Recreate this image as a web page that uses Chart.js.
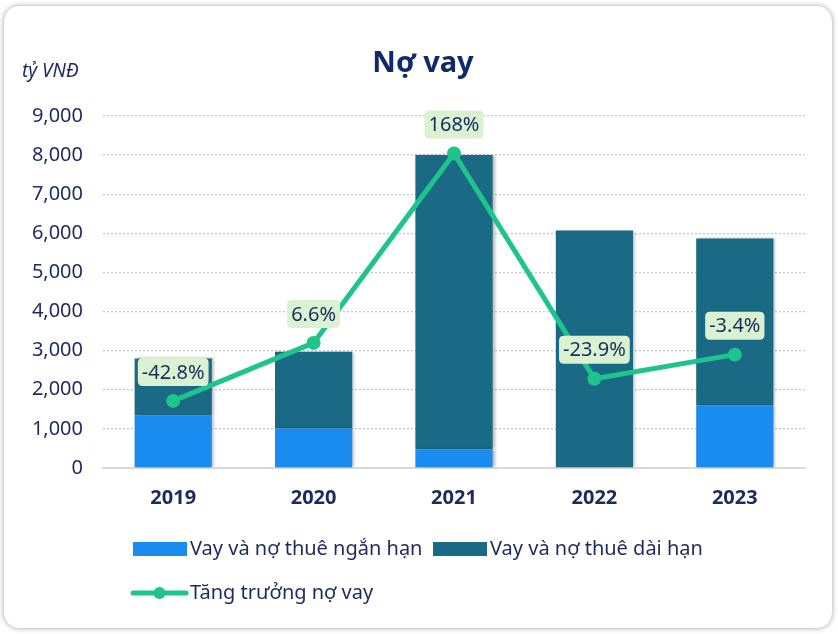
<!DOCTYPE html>
<html><head><meta charset="utf-8">
<script src="https://cdn.jsdelivr.net/npm/chart.js@4/dist/chart.umd.min.js"></script>
<style>
html,body{margin:0;padding:0;background:#fff;width:838px;height:634px;overflow:hidden;font-family:"Noto Sans",sans-serif;}
#card{position:absolute;left:3px;top:5px;width:828px;height:622px;border:1px solid #d6d6d6;border-radius:16px;box-shadow:0 0 5px rgba(0,0,0,0.25);background:#fff;}
#wrap{position:absolute;left:0;top:0;width:838px;height:634px;}
</style></head>
<body>
<div id="card"></div>
<div id="wrap"><canvas id="c" width="838" height="634"></canvas></div>
<script>
const categories = ["2019","2020","2021","2022","2023"];
const shortTerm = [1340, 1010, 480, 0, 1600];
const longTerm = [1460, 1960, 7520, 6070, 4270];
const growth = [-42.8, 6.6, 168, -23.9, -3.4];
const growthLabels = ["-42.8%","6.6%","168%","-23.9%","-3.4%"];
const seriesNames = ["Vay và nợ thuê ngắn hạn","Vay và nợ thuê dài hạn","Tăng trưởng nợ vay"];
const title = "Nợ vay";
const unit = "tỷ VNĐ";

const NAVY = "#1b2b5e";
const C_SHORT = "#1a8cf0";
const C_LONG = "#1a6a85";
const C_LINE = "#1fc38c";
const FONT = "'Noto Sans', sans-serif";

const shadowPlugin = {
  id:'barShadow',
  beforeDatasetDraw(chart, args){
    if (chart.data.datasets[args.index].type === 'bar'){
      const ctx = chart.ctx; ctx.save();
      ctx.shadowColor='rgba(0,0,0,0.3)'; ctx.shadowBlur=3; ctx.shadowOffsetX=2; ctx.shadowOffsetY=0;
    }
  },
  afterDatasetDraw(chart, args){
    if (chart.data.datasets[args.index].type === 'bar') chart.ctx.restore();
  }
};

function rr(ctx,x,y,w,h,r){ctx.beginPath();ctx.moveTo(x+r,y);ctx.lineTo(x+w-r,y);ctx.quadraticCurveTo(x+w,y,x+w,y+r);ctx.lineTo(x+w,y+h-r);ctx.quadraticCurveTo(x+w,y+h,x+w-r,y+h);ctx.lineTo(x+r,y+h);ctx.quadraticCurveTo(x,y+h,x,y+h-r);ctx.lineTo(x,y+r);ctx.quadraticCurveTo(x,y,x+r,y);ctx.closePath();}

const decoPlugin = {
  id:'deco',
  afterDatasetsDraw(chart){
    const ctx = chart.ctx;
    const meta = chart.getDatasetMeta(2);
    ctx.save();
    ctx.font = "20px " + FONT;
    ctx.textAlign='center'; ctx.textBaseline='middle';
    meta.data.forEach((pt,i)=>{
      const t = growthLabels[i];
      const w = ctx.measureText(t).width + 8;
      const h = 28;
      const cy = pt.y - 29;
      ctx.fillStyle = "#daf2d2";
      rr(ctx, pt.x - w/2, cy - h/2, w, h, 5); ctx.fill();
      ctx.fillStyle = NAVY;
      ctx.fillText(t, pt.x, cy+1);
    });
    ctx.restore();
  },
  afterDraw(chart){
    const ctx = chart.ctx;
    ctx.save();
    ctx.fillStyle = "#102a68";
    ctx.font = "bold 29px " + FONT;
    ctx.textAlign='center'; ctx.textBaseline='middle';
    ctx.fillText(title, 423, 64);
    ctx.font = "italic 19px " + FONT;
    ctx.fillStyle = NAVY; ctx.textAlign='left';
    ctx.fillText(unit, 22, 72);
    ctx.font = "20px " + FONT;
    ctx.textBaseline='middle';
    const ds = chart.data.datasets;
    ctx.fillStyle = ds[0].backgroundColor; ctx.fillRect(133, 542, 54, 14);
    ctx.fillStyle = NAVY; ctx.fillText(ds[0].label, 190, 549);
    ctx.fillStyle = ds[1].backgroundColor; ctx.fillRect(433, 542, 54, 14);
    ctx.fillStyle = NAVY; ctx.fillText(ds[1].label, 490, 549);
    ctx.strokeStyle = C_LINE; ctx.lineWidth = 5; ctx.lineCap='round';
    ctx.beginPath(); ctx.moveTo(133, 593); ctx.lineTo(186, 593); ctx.stroke();
    ctx.fillStyle = C_LINE; ctx.beginPath(); ctx.arc(159.5, 593, 6, 0, Math.PI*2); ctx.fill();
    ctx.fillStyle = NAVY; ctx.fillText(ds[2].label, 190, 593);
    ctx.restore();
  }
};

new Chart(document.getElementById('c'), {
  data:{
    labels: categories,
    datasets:[
      {type:'bar', label:seriesNames[0], data:shortTerm, backgroundColor:C_SHORT, stack:'s', order:2, barPercentage:0.55, categoryPercentage:1.0},
      {type:'bar', label:seriesNames[1], data:longTerm, backgroundColor:C_LONG, stack:'s', order:2, barPercentage:0.55, categoryPercentage:1.0},
      {type:'line', label:seriesNames[2], data:growth, yAxisID:'y2', borderColor:C_LINE, backgroundColor:C_LINE, borderWidth:5, pointRadius:7, pointBackgroundColor:C_LINE, pointBorderWidth:0, order:0, tension:0}
    ]
  },
  options:{
    responsive:false, animation:false,
    layout:{padding:{top:116,left:0,right:33,bottom:106}},
    plugins:{legend:{display:false}, title:{display:false}, tooltip:{enabled:false}},
    scales:{
      x:{stacked:true, grid:{display:false, drawTicks:false}, border:{display:true,color:'#d9d9d9',width:2},
         ticks:{color:NAVY, font:{family:FONT, size:20, weight:'bold'}, padding:18}},
      y:{stacked:true, min:0, max:9000, afterFit(s){s.width=103;},
         grid:{drawTicks:false, color:'#c8c8c8', lineWidth:1.3}, border:{display:false, dash:[2,2]},
         ticks:{stepSize:1000, color:NAVY, font:{family:FONT, size:20}, padding:20,
           callback:(v)=>v.toLocaleString('en-US')}},
      y2:{display:false, min:-100, max:200}
    }
  },
  plugins:[shadowPlugin, decoPlugin]
});
</script>
</body></html>
